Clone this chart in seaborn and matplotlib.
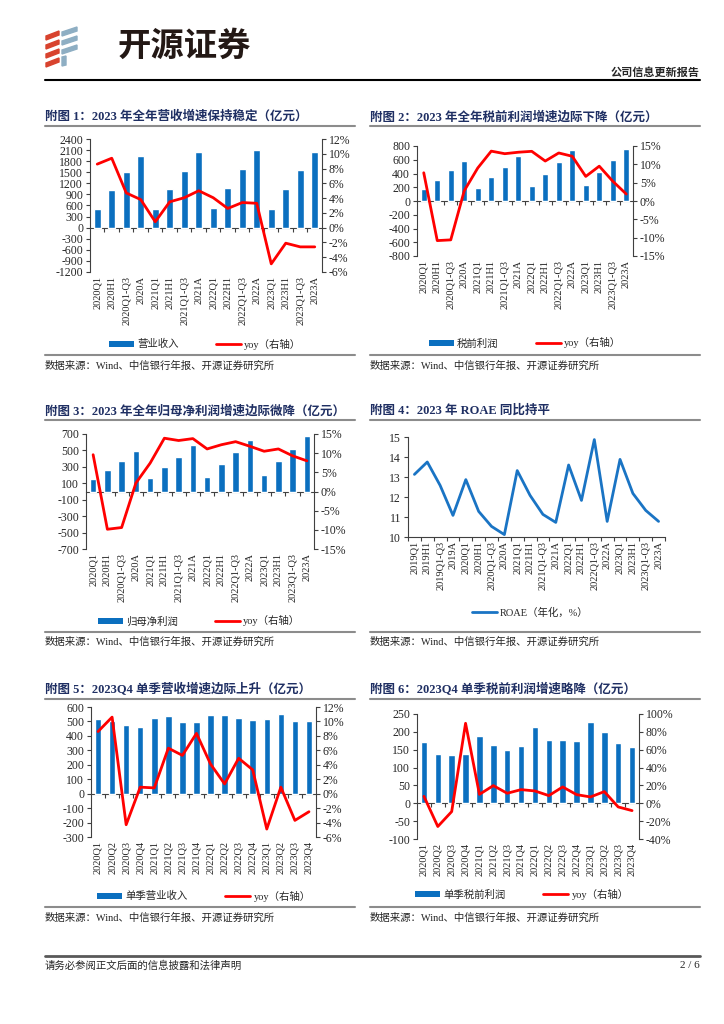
import numpy as np
import matplotlib
matplotlib.use('Agg')
import matplotlib.pyplot as plt
import matplotlib.ticker as mticker
from matplotlib.patches import Patch, Polygon
from matplotlib.lines import Line2D
import seaborn as sns

sns.set_style('ticks')
plt.rcParams['font.family'] = ['Liberation Serif', 'Noto Sans CJK SC']
plt.rcParams['axes.unicode_minus'] = False

# ── Дані ─────────────────────────────────────────────────────────────────────
cats_cum = ['2020Q1', '2020H1', '2020Q1-Q3', '2020A', '2021Q1', '2021H1', '2021Q1-Q3', '2021A',
            '2022Q1', '2022H1', '2022Q1-Q3', '2022A', '2023Q1', '2023H1', '2023Q1-Q3', '2023A']
cats_q = ['2020Q1', '2020Q2', '2020Q3', '2020Q4', '2021Q1', '2021Q2', '2021Q3', '2021Q4',
          '2022Q1', '2022Q2', '2022Q3', '2022Q4', '2023Q1', '2023Q2', '2023Q3', '2023Q4']
cats_roae = ['2019Q1', '2019H1', '2019Q1-Q3', '2019A'] + cats_cum

revenue = [510, 1020, 1494, 1947, 512, 1050, 1540, 2047, 534, 1078, 1594, 2110, 510, 1060, 1567, 2058]
revenue_yoy = [8.6, 9.4, 4.7, 3.8, 0.8, 3.5, 4.05, 5.0, 4.05, 2.6, 3.4, 3.3, -4.9, -2.1, -2.6, -2.6]

pretax = [171, 312, 447, 582, 186, 350, 495, 650, 215, 389, 563, 737, 230, 428, 592, 751]
pretax_yoy = [7.7, -10.8, -10.6, 2.8, 9.0, 13.6, 12.9, 13.3, 13.55, 10.9, 13.1, 12.2, 6.7, 9.5, 5.4, 1.9]

netprofit = [147, 260, 374, 497, 163, 293, 423, 562, 179, 330, 480, 621, 199, 366, 521, 670]
netprofit_yoy = [9.6, -9.85, -9.4, 2.2, 7.4, 13.9, 13.3, 13.8, 11.1, 12.2, 13.0, 11.8, 10.5, 11.1, 9.3, 8.0]

roae = [13.13, 13.75, 12.58, 11.08, 12.87, 11.28, 10.53, 10.12, 13.32, 12.08, 11.13, 10.73,
        13.6, 11.83, 14.87, 10.78, 13.88, 12.18, 11.33, 10.78]

q_revenue = [516, 505, 475, 459, 524, 540, 498, 498, 545, 547, 526, 512, 519, 554, 505, 501]
q_revenue_yoy = [8.6, 10.6, -4.3, 0.9, 0.8, 6.3, 5.3, 8.35, 4.1, 1.35, 4.9, 3.3, -4.9, 0.9, -3.7, -2.5]

q_pretax = [171, 138, 135, 137, 188, 164, 148, 159, 213, 177, 176, 174, 227, 200, 169, 158]
q_pretax_yoy = [7.8, -26.0, -9.3, 89.6, 10.0, 19.8, 11.2, 15.3, 13.8, 8.6, 18.3, 9.7, 7.1, 13.1, -4.1, -8.2]

source = '数据来源：Wind、中信银行年报、开源证券研究所'

# ── Стиль ────────────────────────────────────────────────────────────────────
W, H = 724, 1024
BLUE = '#0B6FBF'
LINEBLUE = '#1A74C4'
RED = '#FF0000'
NAVY = '#1F2F63'
SPINE = '#404040'

fig = plt.figure(figsize=(W / 100, H / 100), dpi=100)


def fx(x):
    return x / W


def fy(y):
    return 1 - y / H


def axes_box(l, t, r, b):
    return fig.add_axes([l / W, 1 - b / H, (r - l) / W, (b - t) / H])


def hline(x0, x1, y, color, lw):
    fig.add_artist(Line2D([fx(x0), fx(x1)], [fy(y), fy(y)], color=color, lw=lw,
                          transform=fig.transFigure))


def style_y(ax, side):
    ax.tick_params(axis='y', length=3, width=0.8, labelsize=8.5, pad=2, color=SPINE)
    ax.spines[side].set_color(SPINE)
    ax.spines[side].set_linewidth(0.8)


def combo(box, cats, vals, yoy, yl, yt, y2l, y2t):
    n = len(cats)
    ax = axes_box(*box)
    sns.barplot(x=cats, y=vals, color=BLUE, saturation=1, width=0.46, ax=ax)
    ax.set_ylim(*yl)
    ax.set_yticks(yt)
    ax.yaxis.set_major_formatter(mticker.FuncFormatter(lambda v, p: f'{v:.0f}'))
    ax.set_xlim(-0.5, n - 0.5)
    ax.set_xticks(range(n))
    ax.set_xticklabels(cats, rotation=90)
    ax.tick_params(axis='x', length=0, pad=3, labelsize=7.5)
    ax.spines[['top', 'bottom', 'right']].set_visible(False)
    ax.set_xlabel('')
    ax.set_ylabel('')
    style_y(ax, 'left')

    # вісь категорій на нулі
    zero = (0 - yl[0]) / (yl[1] - yl[0])
    sec = ax.secondary_xaxis(zero)
    sec.set_alignment('bottom')
    sec.set_xticks(np.arange(n - 1) + 0.5)
    sec.tick_params(axis='x', length=3, width=0.8, labelbottom=False, labeltop=False, color=SPINE)
    sec.spines['bottom'].set_color(SPINE)
    sec.spines['bottom'].set_linewidth(0.8)

    ax2 = ax.twinx()
    sns.lineplot(x=np.arange(n), y=yoy, color=RED, linewidth=2, ax=ax2)
    ax2.set_ylim(*y2l)
    ax2.set_yticks(y2t)
    ax2.yaxis.set_major_formatter(mticker.FuncFormatter(lambda v, p: f'{v:.0f}%'))
    ax2.set_xlim(-0.5, n - 0.5)
    ax2.spines[['top', 'bottom', 'left']].set_visible(False)
    ax2.set_ylabel('')
    style_y(ax2, 'right')
    return ax


def combo_legend(cx, cy, bar_name):
    handles = [Patch(facecolor=BLUE, edgecolor='none'), Line2D([], [], color=RED, lw=2)]
    fig.legend(handles, [bar_name, 'yoy（右轴）'], loc='center', bbox_to_anchor=(fx(cx), fy(cy)),
               ncol=2, frameon=False, fontsize=7.5, handlelength=2.4, handleheight=0.55,
               handletextpad=0.3, columnspacing=3.6)


def panel_frame(x0, x1, y_title, title, y_sep, y_src):
    fig.text(fx(x0), fy(y_title), title, fontsize=9, fontweight='bold', color=NAVY,
             ha='left', va='center')
    hline(x0, x1, y_title + 9, '#8C8C8C', 1.5)
    hline(x0, x1, y_sep, '#8C8C8C', 1.5)
    fig.text(fx(x0), fy(y_src), source, fontsize=7.5, ha='left', va='center')


# ── Шапка ────────────────────────────────────────────────────────────────────
for i, yc in enumerate([34, 43, 52, 61]):
    fig.add_artist(Polygon([(fx(46), fy(yc + 2)), (fx(59), fy(yc - 3)), (fx(59), fy(yc + 1)),
                            (fx(46), fy(yc + 6))], closed=True, color='#D8432E',
                           transform=fig.transFigure))
for i, yc in enumerate([30, 39, 48]):
    fig.add_artist(Polygon([(fx(62), fy(yc + 2)), (fx(77), fy(yc - 3)), (fx(77), fy(yc + 1)),
                            (fx(62), fy(yc + 6))], closed=True, color='#8EAEC3',
                           transform=fig.transFigure))
fig.add_artist(Polygon([(fx(62), fy(57)), (fx(66), fy(56)), (fx(66), fy(65)), (fx(62), fy(66))],
                       closed=True, color='#8EAEC3', transform=fig.transFigure))
fig.text(fx(118), fy(46), '开源证券', fontsize=24, fontweight='bold', color='#231815',
         ha='left', va='center', family=['Noto Sans CJK SC'])
fig.text(fx(700), fy(73), '公司信息更新报告', fontsize=8, fontweight='bold', ha='right', va='center')
hline(45, 700, 80, 'black', 1.5)

# ── Рисунок 1 ────────────────────────────────────────────────────────────────
panel_frame(45, 355, 117, '附图 1：2023 年全年营收增速保持稳定（亿元）', 355, 366)
combo((90, 139, 322, 272), cats_cum, revenue, revenue_yoy,
      (-1200, 2400), range(-1200, 2401, 300), (-6, 12), range(-6, 13, 2))
combo_legend(205, 344, '营业收入')

# ── Рисунок 2 ────────────────────────────────────────────────────────────────
panel_frame(370, 700, 117, '附图 2：2023 年全年税前利润增速边际下降（亿元）', 355, 366)
combo((417, 146, 633, 256), cats_cum, pretax, pretax_yoy,
      (-800, 800), range(-800, 801, 200), (-15, 15), range(-15, 16, 5))
combo_legend(525, 343, '税前利润')

# ── Рисунок 3 ────────────────────────────────────────────────────────────────
panel_frame(45, 355, 411, '附图 3：2023 年全年归母净利润增速边际微降（亿元）', 632, 642)
combo((86, 434, 314, 549), cats_cum, netprofit, netprofit_yoy,
      (-700, 700), range(-700, 701, 200), (-15, 15), range(-15, 16, 5))
combo_legend(199, 621, '归母净利润')

# ── Рисунок 4 ────────────────────────────────────────────────────────────────
panel_frame(370, 700, 411, '附图 4：2023 年 ROAE 同比持平', 632, 642)
ax = axes_box(408, 437, 665, 537)
n = len(cats_roae)
sns.lineplot(x=np.arange(n), y=roae, color=LINEBLUE, linewidth=2, ax=ax)
ax.set_ylim(10, 15)
ax.set_yticks(range(10, 16))
ax.set_xlim(-0.5, n - 0.5)
ax.set_xticks(range(n))
ax.set_xticklabels(cats_roae, rotation=90)
ax.set_xticks(np.arange(n + 1) - 0.5, minor=True)
ax.tick_params(axis='x', which='major', length=0, pad=3, labelsize=7.5)
ax.tick_params(axis='x', which='minor', length=3, width=0.8, color=SPINE)
ax.spines[['top', 'right']].set_visible(False)
ax.spines['bottom'].set_color(SPINE)
ax.spines['bottom'].set_linewidth(0.8)
ax.set_xlabel('')
ax.set_ylabel('')
style_y(ax, 'left')
fig.legend([Line2D([], [], color=LINEBLUE, lw=2)], ['ROAE（年化，%）'], loc='center',
           bbox_to_anchor=(fx(530), fy(613)), frameon=False, fontsize=7.5, handlelength=2.4,
           handletextpad=0.3)

# ── Рисунок 5 ────────────────────────────────────────────────────────────────
panel_frame(45, 355, 690, '附图 5：2023Q4 单季营收增速边际上升（亿元）', 907, 918)
combo((91, 707, 316, 837), cats_q, q_revenue, q_revenue_yoy,
      (-300, 600), range(-300, 601, 100), (-6, 12), range(-6, 13, 2))
combo_legend(204, 896, '单季营业收入')

# ── Рисунок 6 ────────────────────────────────────────────────────────────────
panel_frame(370, 700, 690, '附图 6：2023Q4 单季税前利润增速略降（亿元）', 907, 918)
combo((417, 714, 639, 839), cats_q, q_pretax, q_pretax_yoy,
      (-100, 250), range(-100, 251, 50), (-40, 100), range(-40, 101, 20))
combo_legend(522, 894, '单季税前利润')

# ── Підвал ───────────────────────────────────────────────────────────────────
hline(45, 700, 956, '#595959', 2)
fig.text(fx(45), fy(966), '请务必参阅正文后面的信息披露和法律声明', fontsize=7.5, ha='left', va='center')
fig.text(fx(700), fy(966), '2 / 6', fontsize=8, ha='right', va='center')

fig.savefig('out.png', dpi=100)
